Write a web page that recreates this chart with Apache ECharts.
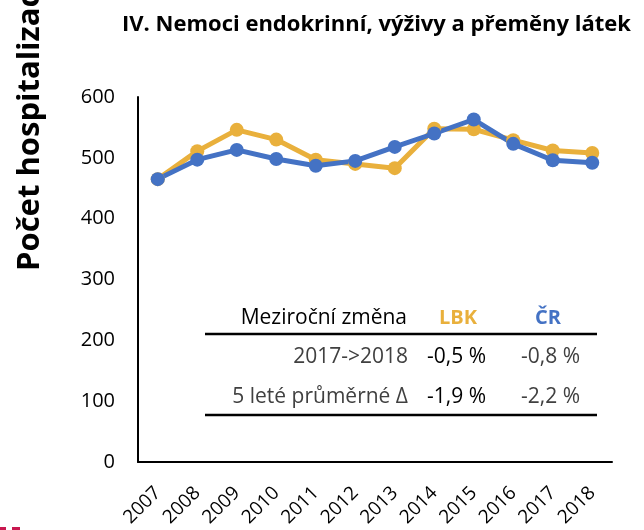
<!DOCTYPE html>
<html>
<head>
<meta charset="utf-8">
<script src="https://cdn.jsdelivr.net/npm/echarts@6/dist/echarts.min.js"></script>
<style>
  * { margin: 0; padding: 0; }
  body { background: #fff; }
  #chart { width: 644px; height: 530px; }
</style>
</head>
<body>
<div id="chart"></div>
<script>
  // data
  var years = ['2007', '2008', '2009', '2010', '2011', '2012', '2013', '2014', '2015', '2016', '2017', '2018'];
  var lbk = [465, 511, 546, 530, 497, 490, 483, 548, 547, 529, 512, 508];
  var cr = [465, 497, 513, 498, 487, 495, 518, 540, 563, 523, 496, 492];
  var yTicks = [0, 100, 200, 300, 400, 500, 600];
  // tabulka mezirocni zmeny
  var tableHead = ['Meziroční změna', 'LBK', 'ČR'];
  var rowLabels = ['2017->2018', '5 leté průměrné Δ'];
  var lbkChange = ['-0,5 %', '-1,9 %'];
  var crChange = ['-0,8 %', '-2,2 %'];

  var font = '"Open Sans", sans-serif';
  var orange = '#E9B03C';
  var blue = '#4472C4';

  var tableTexts = [];
  // hlavicka
  tableTexts.push({ type: 'text', x: 407, y: 318,
    style: { text: tableHead[0], font: '21px ' + font, fill: '#000', textAlign: 'right', textVerticalAlign: 'middle' } });
  tableTexts.push({ type: 'text', x: 458, y: 318,
    style: { text: tableHead[1], font: 'bold 20px ' + font, fill: orange, textAlign: 'center', textVerticalAlign: 'middle' } });
  tableTexts.push({ type: 'text', x: 548, y: 318,
    style: { text: tableHead[2], font: 'bold 20px ' + font, fill: blue, textAlign: 'center', textVerticalAlign: 'middle' } });
  var rowY = [357, 397];
  for (var i = 0; i < rowLabels.length; i++) {
    tableTexts.push({ type: 'text', x: 408, y: rowY[i],
      style: { text: rowLabels[i], font: '21px ' + font, fill: '#404040', textAlign: 'right', textVerticalAlign: 'middle' } });
    tableTexts.push({ type: 'text', x: 486, y: rowY[i],
      style: { text: lbkChange[i], font: '21px ' + font, fill: '#000', textAlign: 'right', textVerticalAlign: 'middle' } });
    tableTexts.push({ type: 'text', x: 580, y: rowY[i],
      style: { text: crChange[i], font: '21px ' + font, fill: '#404040', textAlign: 'right', textVerticalAlign: 'middle' } });
  }

  var option = {
    backgroundColor: '#fff',
    animation: false,
    title: {
      text: 'IV. Nemoci endokrinní, výživy a přeměny látek',
      left: 117, top: 9,
      textStyle: { fontFamily: font, fontWeight: 'bold', fontSize: 22, color: '#000' }
    },
    grid: { left: 138, right: 32, top: 97, bottom: 68 },
    xAxis: {
      type: 'category',
      data: years,
      boundaryGap: true,
      axisLine: { lineStyle: { color: '#000', width: 2 } },
      axisTick: { show: false },
      axisLabel: { rotate: 45, fontFamily: font, fontSize: 19, color: '#000', margin: 28 }
    },
    yAxis: {
      type: 'value',
      min: yTicks[0],
      max: yTicks[yTicks.length - 1],
      interval: 100,
      splitLine: { show: false },
      axisLine: { show: true, lineStyle: { color: '#000', width: 2 } },
      axisTick: { show: false },
      axisLabel: { fontFamily: font, fontSize: 20, color: '#000', margin: 23 }
    },
    graphic: [
      { type: 'text', x: 30, y: 271, rotation: Math.PI / 2,
        style: { text: 'Počet hospitalizací na 100 000 obyvatel', font: 'bold 31px ' + font, fill: '#000', textAlign: 'left', textVerticalAlign: 'middle' } },
      { type: 'line', shape: { x1: 205, y1: 334, x2: 597, y2: 334 }, style: { stroke: '#000', lineWidth: 2.5 } },
      { type: 'line', shape: { x1: 205, y1: 415, x2: 597, y2: 415 }, style: { stroke: '#000', lineWidth: 2.5 } },
      { type: 'rect', shape: { x: 0, y: 527, width: 6, height: 3 }, style: { fill: '#C8174F' } },
      { type: 'rect', shape: { x: 12, y: 527, width: 8, height: 3 }, style: { fill: '#C8174F' } }
    ].concat(tableTexts),
    series: [
      {
        name: 'LBK', type: 'line', data: lbk,
        symbol: 'circle', symbolSize: 14,
        lineStyle: { color: orange, width: 5 },
        itemStyle: { color: orange }
      },
      {
        name: 'ČR', type: 'line', data: cr,
        symbol: 'circle', symbolSize: 14,
        lineStyle: { color: blue, width: 5 },
        itemStyle: { color: blue }
      }
    ]
  };

  var myChart = echarts.init(document.getElementById('chart'));
  myChart.setOption(option);
</script>
</body>
</html>
